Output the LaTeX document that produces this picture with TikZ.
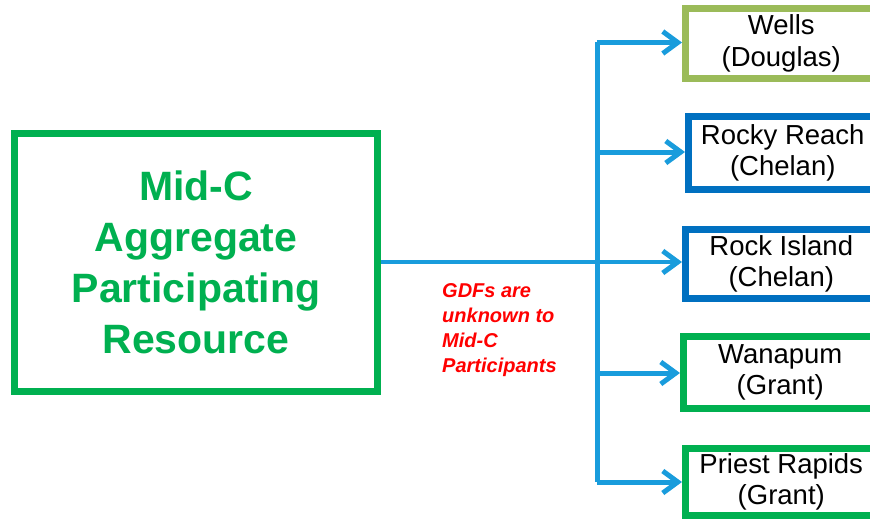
\documentclass[tikz,border=0pt]{standalone}
\usepackage{fontspec}
\setmainfont{Liberation Sans}
\usetikzlibrary{arrows.meta}
\definecolor{mgreen}{HTML}{00B050}
\definecolor{olive}{HTML}{9BBB59}
\definecolor{dblue}{HTML}{0070C0}
\definecolor{lblue}{HTML}{199CDC}
\definecolor{mred}{HTML}{FF0000}
\tikzset{
  plant/.style={draw, line width=7pt, fill=white, align=center, minimum width=191.5pt,
    font=\fontsize{27.5}{31.5}\selectfont, inner sep=0pt},
  bus/.style={draw=lblue, line width=5pt, line join=round},
  arr/.style={draw=lblue, line width=5pt, -{Straight Barb[length=15pt,width=22pt]}},
  mainarr/.style={draw=lblue, line width=3.5pt, -{Straight Barb[length=15pt,width=22pt,line width=5pt]}},
}
\begin{document}
\begin{tikzpicture}[x=1pt,y=-1pt]
\useasboundingbox (0,0) rectangle (870,519);
\clip (0,0) rectangle (870,519);
% left box
\node[draw=mgreen, line width=7pt, minimum width=363pt, minimum height=258pt, inner sep=0pt,
  align=center, text=mgreen, font=\fontsize{41}{51}\selectfont\bfseries] (mid) at (196,262.5)
  {Mid-C\\Aggregate\\Participating\\Resource};
% plant boxes
\node[plant, draw=olive, minimum height=70pt] (wells) at (781.25,43.5) {Wells\\(Douglas)};
\node[plant, draw=dblue, minimum width=188.5pt, minimum height=73pt] (rocky) at (782.75,153) {Rocky Reach\\(Chelan)};
\node[plant, draw=dblue, minimum height=69pt] (rock) at (781.25,264) {Rock Island\\(Chelan)};
\node[plant, draw=mgreen, minimum width=193.5pt, minimum height=72pt] (wana) at (780.25,372.5) {Wanapum\\(Grant)};
\node[plant, draw=mgreen, minimum height=67pt] (priest) at (781.25,482) {Priest Rapids\\(Grant)};
% note
\node[anchor=west, align=left, text=mred, inner sep=0pt,
  font=\fontsize{20}{25}\selectfont\bfseries\itshape] (note) at (442,330)
  {GDFs are\\unknown to\\Mid-C\\Participants};
% bus
\coordinate (b1) at (597,42.5);
\coordinate (b2) at (597,152);
\coordinate (b3) at (597,262);
\coordinate (b4) at (597,373);
\coordinate (b5) at (597,482);
\draw[bus] (b1) -- (b5);
\draw[arr] (b1) -- (b1 -| wells.west);
\draw[arr] (b2) -- (b2 -| rocky.west);
\draw[arr] (b4) -- (b4 -| wana.west);
\draw[arr] (b5) -- (b5 -| priest.west);
\draw[mainarr] (mid.east |- b3) -- (b3 -| rock.west);
\end{tikzpicture}
\end{document}
